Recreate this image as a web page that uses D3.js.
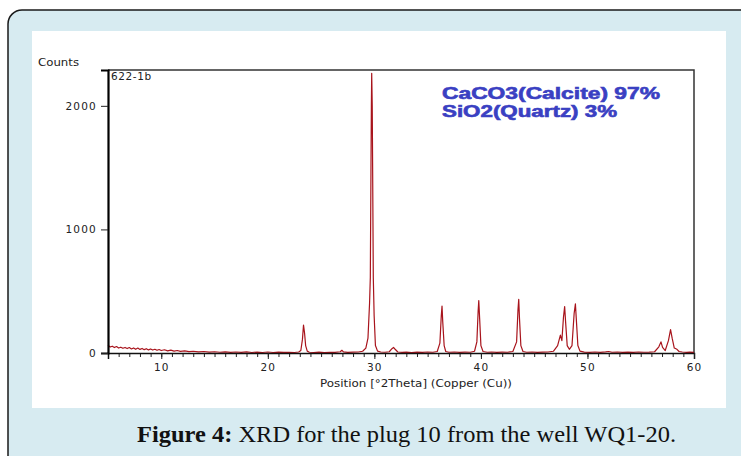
<!DOCTYPE html>
<html>
<head>
<meta charset="utf-8">
<script src="https://cdn.jsdelivr.net/npm/d3@7"></script>
<style>
    body { margin: 0; background: #fff; }
    svg { display: block; }
</style>
</head>
<body>
<svg id="fig" width="741" height="456"></svg>
<script>

// XRD pattern: [position 2theta, counts]
var pattern = [
    [5.0,62],[5.2,48],[5.4,55],[5.6,44],[5.8,52],[6.0,40],[6.2,47],[6.4,38],[6.6,45],[6.8,36],
    [7.0,44],[7.2,33],[7.4,41],[7.6,30],[7.8,40],[8.0,29],[8.2,37],[8.4,27],[8.6,35],[8.8,25],
    [9.0,33],[9.2,24],[9.4,30],[9.6,22],[9.8,28],[10.0,20],[10.3,26],[10.6,17],[10.9,23],[11.2,15],
    [11.5,20],[11.8,13],[12.2,17],[12.6,11],[13.0,14],[13.5,9],[14.0,12],[14.5,7],[15.0,10],[15.5,6],
    [16.0,9],[16.5,5],[17.0,8],[17.5,5],[18.0,9],[18.5,4],[19.0,7],[19.5,4],[20.0,8],[20.5,4],
    [21.0,7],[21.5,5],[22.0,6],[22.5,4],[22.9,8],
    [23.1,20],[23.25,110],[23.35,226],[23.45,160],[23.55,60],[23.7,15],[23.9,6],
    [24.3,4],[24.8,7],[25.3,4],[25.8,6],[26.3,5],[26.8,10],[26.95,22],[27.1,9],[27.5,5],
    [28.0,7],[28.5,8],[28.9,14],[29.2,40],[29.4,120],
    [29.55,405],[29.62,610],[29.68,1465],[29.72,2000],[29.75,2263],[29.8,2000],[29.84,1465],[29.9,610],
    [29.98,300],[30.1,60],[30.3,15],[30.6,8],[31.0,6],[31.4,10],[31.65,35],[31.8,45],[31.95,30],
    [32.2,8],[32.6,5],[33.0,7],[33.5,4],[34.0,7],[34.5,5],[35.0,8],[35.5,6],[35.9,12],
    [36.15,80],[36.28,300],[36.35,380],[36.42,250],[36.55,60],[36.7,12],[37.0,6],[37.5,8],[38.0,5],
    [38.5,7],[39.0,6],[39.4,14],[39.62,90],[39.74,340],[39.8,424],[39.88,280],[40.0,60],[40.2,12],
    [40.6,6],[41.0,8],[41.5,5],[42.0,7],[42.5,6],[43.0,12],[43.35,90],[43.48,350],[43.55,435],
    [43.62,280],[43.75,60],[43.95,12],[44.3,6],[44.8,8],[45.3,5],[45.8,7],[46.3,8],[46.8,14],
    [47.2,60],[47.46,144],[47.6,100],[47.75,290],[47.86,375],[47.95,250],[48.1,60],[48.3,30],
    [48.55,60],[48.75,320],[48.87,397],[48.95,280],[49.1,60],[49.3,15],[49.7,7],[50.2,5],[50.7,8],
    [51.2,5],[51.7,9],[52.0,12],[52.3,6],[52.8,8],[53.3,5],[53.8,7],[54.3,5],[54.8,8],[55.3,6],
    [55.8,7],[56.3,10],[56.7,50],[56.9,90],[57.05,45],[57.3,20],[57.6,100],[57.8,190],[57.95,120],
    [58.15,40],[58.4,30],[58.6,12],[58.9,8],[59.3,5],[59.6,7],[60.0,5]
];

var xDomain = [5, 60];
var yDomain = [0, 2290];
var xLabels = [10, 20, 30, 40, 50, 60];
var yLabels = [0, 1000, 2000];
var phases = ['CaCO3(Calcite) 97%', 'SiO2(Quartz) 3%'];
var sampleName = '622-1b';

function draw()
{
    var svg = d3.select('#fig');

    // page frame: light blue box with rounded corner, white panel inside
    svg.append('rect')
        .attr('x', 8).attr('y', 10)
        .attr('width', 800).attr('height', 500)
        .attr('rx', 14)
        .attr('fill', '#d7ebf1')
        .attr('stroke', '#1a1a1a')
        .attr('stroke-width', 1.5);

    svg.append('rect')
        .attr('x', 32).attr('y', 31)
        .attr('width', 694).attr('height', 377)
        .attr('fill', '#fff');

    var box = {left: 108, right: 694, top: 70, bottom: 353};

    var x = d3.scaleLinear().domain(xDomain).range([box.left, box.right]);
    var y = d3.scaleLinear().domain(yDomain).range([box.bottom, box.top]);

    var tickFont = 'DejaVu Sans, Verdana, sans-serif';

    // top and right border of the plot
    svg.append('path')
        .attr('d', 'M' + box.left + ',' + box.top + 'H' + box.right + 'V' + box.bottom)
        .attr('fill', 'none')
        .attr('stroke', '#333')
        .attr('stroke-width', 1.5);

    // trace
    var line = d3.line()
        .x(function(d) { return x(d[0]) })
        .y(function(d) { return y(d[1]) });

    svg.append('path')
        .datum(pattern)
        .attr('d', line)
        .attr('fill', 'none')
        .attr('stroke', '#a8141c')
        .attr('stroke-width', 1.2)
        .attr('stroke-linejoin', 'round');

    // x axis: minor ticks every degree, labels every ten
    var xMinor = d3.axisBottom(x)
        .tickValues(d3.range(6, 60, 1))
        .tickSize(4)
        .tickFormat('');

    svg.append('g')
        .attr('transform', 'translate(0,' + box.bottom + ')')
        .call(xMinor)
        .call(function(g) { g.select('.domain').remove() })
        .selectAll('line').attr('stroke', '#222');

    var xAxis = d3.axisBottom(x)
        .tickValues(xLabels)
        .tickSize(6)
        .tickPadding(5)
        .tickFormat(d3.format('d'));

    var gx = svg.append('g')
        .attr('transform', 'translate(0,' + box.bottom + ')')
        .call(xAxis);

    gx.select('.domain').attr('stroke', '#111').attr('stroke-width', 1.5);
    gx.selectAll('line').attr('stroke', '#222');
    gx.selectAll('text')
        .attr('font-family', tickFont)
        .attr('font-size', 10.5)
        .attr('letter-spacing', 1.2)
        .attr('fill', '#222');

    var yAxis = d3.axisLeft(y)
        .tickValues(yLabels)
        .tickSize(7)
        .tickPadding(4)
        .tickFormat(d3.format('d'));

    var gy = svg.append('g')
        .attr('transform', 'translate(' + box.left + ',0)')
        .call(yAxis);

    gy.select('.domain').attr('stroke', '#000').attr('stroke-width', 2.2);
    gy.selectAll('line').attr('stroke', '#222');
    gy.selectAll('text')
        .attr('font-family', tickFont)
        .attr('font-size', 10.5)
        .attr('letter-spacing', 1.2)
        .attr('fill', '#222');

    // labels
    svg.append('text')
        .attr('x', 38).attr('y', 66)
        .attr('font-family', tickFont)
        .attr('font-size', 10.5)
        .attr('textLength', 41)
        .attr('lengthAdjust', 'spacingAndGlyphs')
        .attr('fill', '#222')
        .text('Counts');

    svg.append('text')
        .attr('x', 111).attr('y', 80)
        .attr('font-family', tickFont)
        .attr('font-size', 10.5)
        .attr('letter-spacing', 0.6)
        .attr('fill', '#222')
        .text(sampleName);

    svg.append('text')
        .attr('x', 416).attr('y', 387)
        .attr('text-anchor', 'middle')
        .attr('font-family', tickFont)
        .attr('font-size', 10.5)
        .attr('textLength', 192)
        .attr('lengthAdjust', 'spacingAndGlyphs')
        .attr('fill', '#222')
        .text('Position [°2Theta] (Copper (Cu))');

    svg.selectAll('text.phase')
        .data(phases)
        .enter()
        .append('text')
        .attr('class', 'phase')
        .attr('x', 442)
        .attr('y', function(d, i) { return 99 + i * 18 })
        .attr('font-family', 'Liberation Sans, Arial, sans-serif')
        .attr('font-weight', 'bold')
        .attr('font-size', 16)
        .attr('textLength', function(d, i) { return i == 0 ? 218 : 175 })
        .attr('lengthAdjust', 'spacingAndGlyphs')
        .attr('fill', '#3a40c2')
        .attr('stroke', '#3a40c2')
        .attr('stroke-width', 0.6)
        .text(function(d) { return d });

    // caption
    var cap = svg.append('text')
        .attr('x', 137).attr('y', 442)
        .attr('font-family', 'Liberation Serif, DejaVu Serif, serif')
        .attr('font-size', 23)
        .attr('textLength', 539)
        .attr('lengthAdjust', 'spacingAndGlyphs')
        .attr('fill', '#111');

    cap.append('tspan').attr('font-weight', 'bold').text('Figure 4:');
    cap.append('tspan').text(' XRD for the plug 10 from the well WQ1-20.');
}

draw();

</script>
</body>
</html>
